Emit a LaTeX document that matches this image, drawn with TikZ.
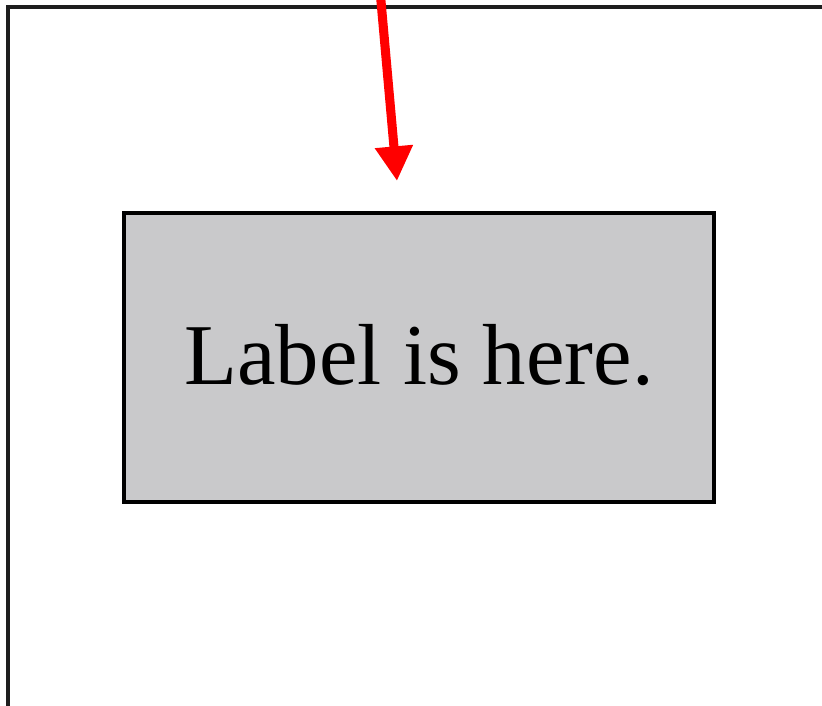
\documentclass[tikz,border=0pt]{standalone}
\usepackage{fontspec}
\setmainfont{Liberation Serif}
\usepackage{xcolor}
\usetikzlibrary{arrows.meta,positioning}
\definecolor{LabelGray} {RGB}{201, 201, 203}
\definecolor{FrameDark} {RGB}{ 30,  30,  30}
\definecolor{PointerRed}{RGB}{255,   0,   0}
\tikzset{
  labelbox/.style={draw=black, fill=LabelGray, line width=2.4pt,
    minimum width=442.5pt, minimum height=216.75pt, inner sep=0pt,
    font=\fontsize{65}{70}\selectfont},
  pointer/.style={PointerRed, line width=6.8pt,
    -{Triangle[length=26pt, width=27pt]}}
}

\begin{document}
\begin{tikzpicture}[x=0.75pt, y=-0.75pt]
  \useasboundingbox (0,0) rectangle (822,706);
  % outer frame, running off the right and bottom edges
  \draw[FrameDark, line width=2.6pt] (8,7) rectangle (840,730);
  % grey label box
  \node[labelbox] (label) at (419,357.5) {\raisebox{5pt}{Label is here.}};
  % red pointer coming in from above
  \coordinate (pointerstart) at (380,-10);
  \coordinate (pointertip)   at (397,181);
  \draw[pointer] (pointerstart) -- (pointertip);
\end{tikzpicture}
\end{document}
